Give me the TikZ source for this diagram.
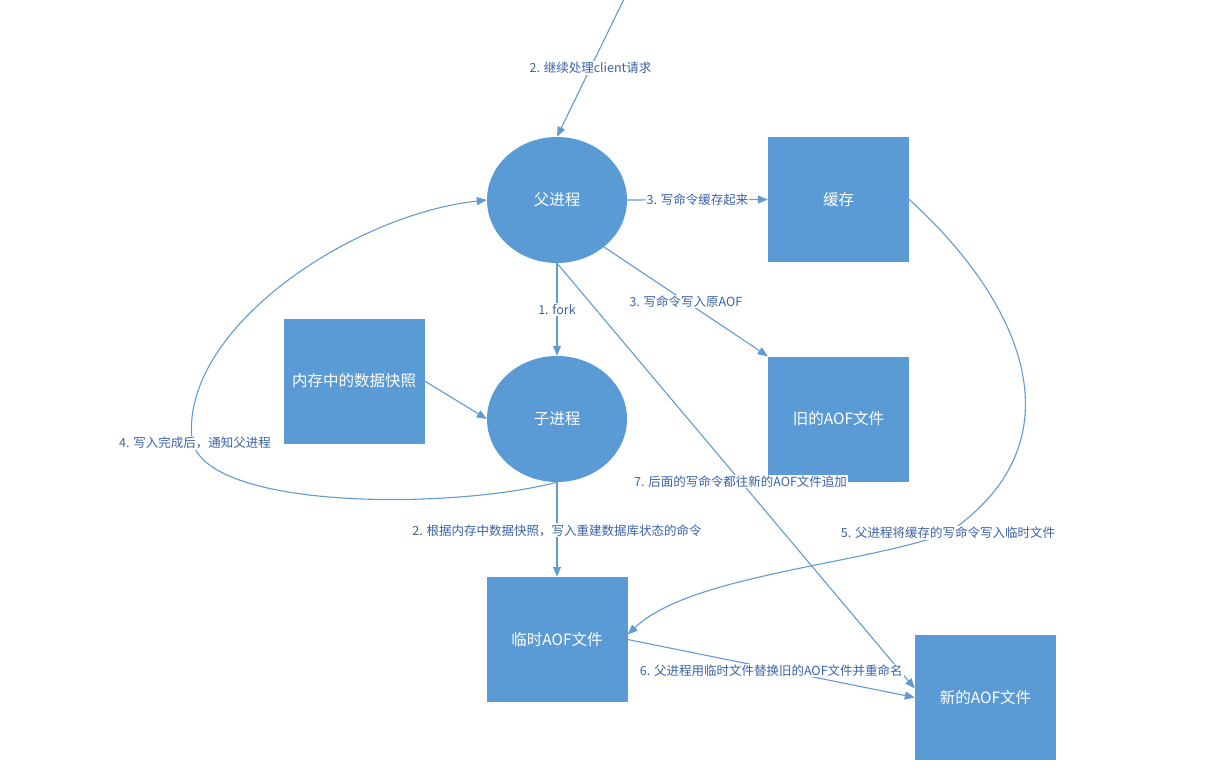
\documentclass[tikz,border=0pt]{standalone}
\usepackage{fontspec}
\newfontfamily\cjk{Noto Sans CJK SC}
\usetikzlibrary{shapes.geometric,arrows.meta}
\definecolor{boxblue}{RGB}{91,155,213}
\definecolor{lineblue}{RGB}{98,155,210}
\definecolor{lblblue}{RGB}{58,98,168}
\tikzset{
  procnode/.style={ellipse,fill=boxblue,draw=none,minimum width=140pt,minimum height=126pt,inner sep=0pt,text=white,font=\cjk\fontsize{15.5}{18}\selectfont},
  filenode/.style={rectangle,fill=boxblue,draw=none,minimum width=141pt,minimum height=125pt,inner sep=0pt,text=white,font=\cjk\fontsize{15.5}{18}\selectfont},
  conn/.style={draw=lineblue,line width=1.1pt,-{Triangle[length=10pt,width=8pt]}},
  lbl/.style={fill=white,inner sep=1pt,text=lblblue,font=\cjk\fontsize{12.5}{14}\selectfont}
}
\begin{document}
\begin{tikzpicture}[x=1pt,y=-1pt]
\useasboundingbox[fill=white] (0,0) rectangle (1223,769);
% nodes
\node[procnode] (parent) at (557,200) {父进程};
\node[procnode] (child) at (557,419) {子进程};
\node[filenode] (cache) at (838.5,199.5) {缓存};
\node[filenode] (old) at (838.5,419) {旧的AOF文件};
\node[filenode] (mem) at (354,381) {内存中的数据快照};
\node[filenode] (temp) at (557,639.5) {临时AOF文件};
\node[filenode] (new) at (985.5,697.5) {新的AOF文件};
\coordinate (client) at (624,-1);
% connectors
\draw[conn] (client) -- node[lbl,pos=0.5] {2. 继续处理client请求} (parent.north);
\draw[conn] (parent.east) -- node[lbl] {3. 写命令缓存起来} (cache.west);
\draw[conn] (parent.-45) -- node[lbl,pos=0.5] {3. 写命令写入原AOF} (old.north west);
\draw[conn] (parent.south) -- node[lbl] {1. fork} (child.north);
\draw[conn] (mem.east) -- (child.west);
\draw[conn] (child.south) .. controls (450,510) and (205,510) .. (192,440)
  node[lbl,xshift=3pt,yshift=-3pt] {4. 写入完成后，通知父进程}
  .. controls (180,330) and (350,215) .. (parent.west);
\draw[conn] (child.south) -- node[lbl,pos=0.51] {2. 根据内存中数据快照，写入重建数据库状态的命令} (temp.north);
\draw[conn] (parent.south) -- node[lbl,pos=0.513] {7. 后面的写命令都往新的AOF文件追加} ([yshift=9pt]new.west);
\draw[conn] (cache.east) .. controls (1020,300) and (1085,440) .. (948,533)
  node[lbl] {5. 父进程将缓存的写命令写入临时文件}
  .. controls (860,565) and (690,575) .. ([yshift=5pt]temp.east);
\draw[conn] (temp.east) -- node[lbl,pos=0.5,yshift=-2pt] {6. 父进程用临时文件替换旧的AOF文件并重命名} (new.west);
\end{tikzpicture}
\end{document}
